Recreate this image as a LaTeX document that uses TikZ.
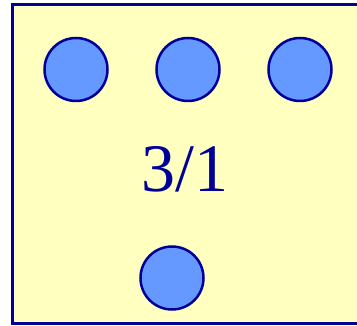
\documentclass[tikz,border=0pt]{standalone}
\usepackage{fontspec}
\setmainfont{Liberation Serif}
\definecolor{bgyellow}{HTML}{FFFFC0}
\definecolor{navy}{HTML}{000099}
\definecolor{dotblue}{HTML}{6699FF}
\begin{document}
\begin{tikzpicture}[x=1pt,y=-1pt,
  dot/.style={circle,draw=navy,fill=dotblue,line width=2.5pt,minimum size=63pt,inner sep=0pt},
  frame/.style={draw=navy,fill=bgyellow,line width=3pt}]
\useasboundingbox (0,0) rectangle (357,326);
\draw[frame] (12.5,5) rectangle (365,324);
\node[dot] (a) at (76,69.5) {};
\node[dot] (b) at (188,69.5) {};
\node[dot] (c) at (300,69.5) {};
\node[dot] (d) at (172,278) {};
\node[text=navy,font=\fontsize{68}{68}\selectfont,anchor=base,inner sep=0pt] (t) at (185,192) {3/1};
\end{tikzpicture}
\end{document}
